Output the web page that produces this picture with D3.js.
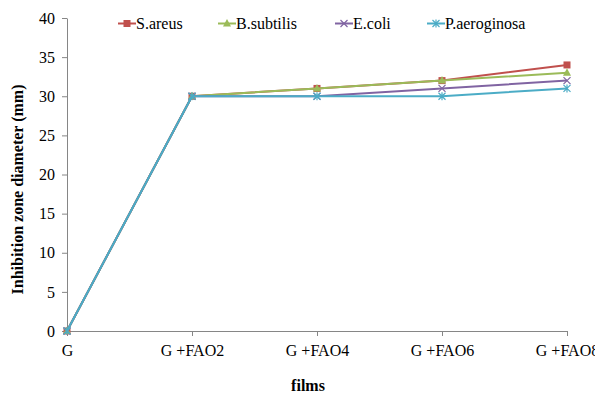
<!DOCTYPE html>
<html>
<head>
<meta charset="utf-8">
<script src="https://cdn.jsdelivr.net/npm/d3@7"></script>
<style>
  body { margin: 0; background: #fff; }
  svg text { font-family: "Liberation Serif", "DejaVu Serif", serif; fill: #000; }
</style>
</head>
<body>
<div id="chart"></div>
<script>
const films = ['G', 'G +FAO2', 'G +FAO4', 'G +FAO6', 'G +FAO8']
const sAreus = [0, 30, 31, 32, 34]
const bSubtilis = [0, 30, 31, 32, 33]
const eColi = [0, 30, 30, 31, 32]
const pAeroginosa = [0, 30, 30, 30, 31]
const yTicks = [0, 5, 10, 15, 20, 25, 30, 35, 40]

const series = [
  { name: 'S.areus', values: sAreus, color: '#C0504D', marker: 'square' },
  { name: 'B.subtilis', values: bSubtilis, color: '#9BBB59', marker: 'triangle' },
  { name: 'E.coli', values: eColi, color: '#8064A2', marker: 'x' },
  { name: 'P.aeroginosa', values: pAeroginosa, color: '#4BACC6', marker: 'star' }
]

const width = 595
const height = 394
const margin = { top: 18, right: 28, bottom: 63, left: 67 }
const serif = '"Liberation Serif", "DejaVu Serif", serif'

const svg = d3.select('#chart')
  .append('svg')
  .attr('width', width)
  .attr('height', height)

const x = d3.scalePoint()
  .domain(films)
  .range([margin.left, width - margin.right])

const y = d3.scaleLinear()
  .domain([0, 40])
  .range([height - margin.bottom, margin.top])

// axes
svg.append('g')
  .attr('transform', `translate(0, ${y(0)})`)
  .call(d3.axisBottom(x).tickSize(5).tickSizeOuter(0).tickPadding(9))
  .call((g) => g.attr('font-family', serif).attr('font-size', 16))
  .call((g) => g.selectAll('path, line').attr('stroke', '#868686'))

svg.append('g')
  .attr('transform', `translate(${margin.left}, 0)`)
  .call(d3.axisLeft(y).tickValues(yTicks).tickSize(5).tickSizeOuter(0).tickPadding(7))
  .call((g) => g.attr('font-family', serif).attr('font-size', 16))
  .call((g) => g.selectAll('path, line').attr('stroke', '#868686'))

// axis titles
svg.append('text')
  .attr('transform', `translate(23, ${(y(0) + y(40)) / 2 + 15}) rotate(-90)`)
  .attr('text-anchor', 'middle')
  .style('font-size', '16px')
  .style('font-weight', 'bold')
  .text('Inhibition zone diameter (mm)')

svg.append('text')
  .attr('x', 308)
  .attr('y', 391)
  .attr('text-anchor', 'middle')
  .style('font-size', '16px')
  .style('font-weight', 'bold')
  .text('films')

function drawMarker (g, type, color, cx, cy) {
  if (type === 'square') {
    g.append('rect')
      .attr('x', cx - 3.5).attr('y', cy - 3.5)
      .attr('width', 7).attr('height', 7)
      .style('fill', color)
  } else if (type === 'triangle') {
    g.append('path')
      .attr('d', `M${cx},${cy - 4.5} L${cx + 4},${cy + 3} L${cx - 4},${cy + 3} Z`)
      .style('fill', color)
  } else if (type === 'x') {
    g.append('path')
      .attr('d', `M${cx - 3.5},${cy - 3.5} L${cx + 3.5},${cy + 3.5} M${cx - 3.5},${cy + 3.5} L${cx + 3.5},${cy - 3.5}`)
      .style('stroke', color).style('stroke-width', 1.2).style('fill', 'none')
  } else if (type === 'star') {
    g.append('path')
      .attr('d', `M${cx - 3.5},${cy - 3.5} L${cx + 3.5},${cy + 3.5} M${cx - 3.5},${cy + 3.5} L${cx + 3.5},${cy - 3.5} M${cx},${cy - 4} L${cx},${cy + 4}`)
      .style('stroke', color).style('stroke-width', 1.2).style('fill', 'none')
  }
}

const line = d3.line()
  .x((d, i) => x(films[i]))
  .y((d) => y(d))

series.forEach((s) => {
  const g = svg.append('g')
  g.append('path')
    .datum(s.values)
    .attr('d', line)
    .style('fill', 'none')
    .style('stroke', s.color)
    .style('stroke-width', 2)
  s.values.forEach((v, i) => drawMarker(g, s.marker, s.color, x(films[i]), y(v)))
})

// legend
const legendX = [118, 218, 335, 427]
const legend = svg.append('g')
series.forEach((s, i) => {
  const lx = legendX[i]
  const ly = 23.5
  legend.append('line')
    .attr('x1', lx).attr('x2', lx + 18)
    .attr('y1', ly).attr('y2', ly)
    .style('stroke', s.color).style('stroke-width', 2)
  drawMarker(legend, s.marker, s.color, lx + 9, ly)
  legend.append('text')
    .attr('x', lx + 18)
    .attr('y', 29)
    .style('font-size', '16px')
    .text(s.name)
})
</script>
</body>
</html>
